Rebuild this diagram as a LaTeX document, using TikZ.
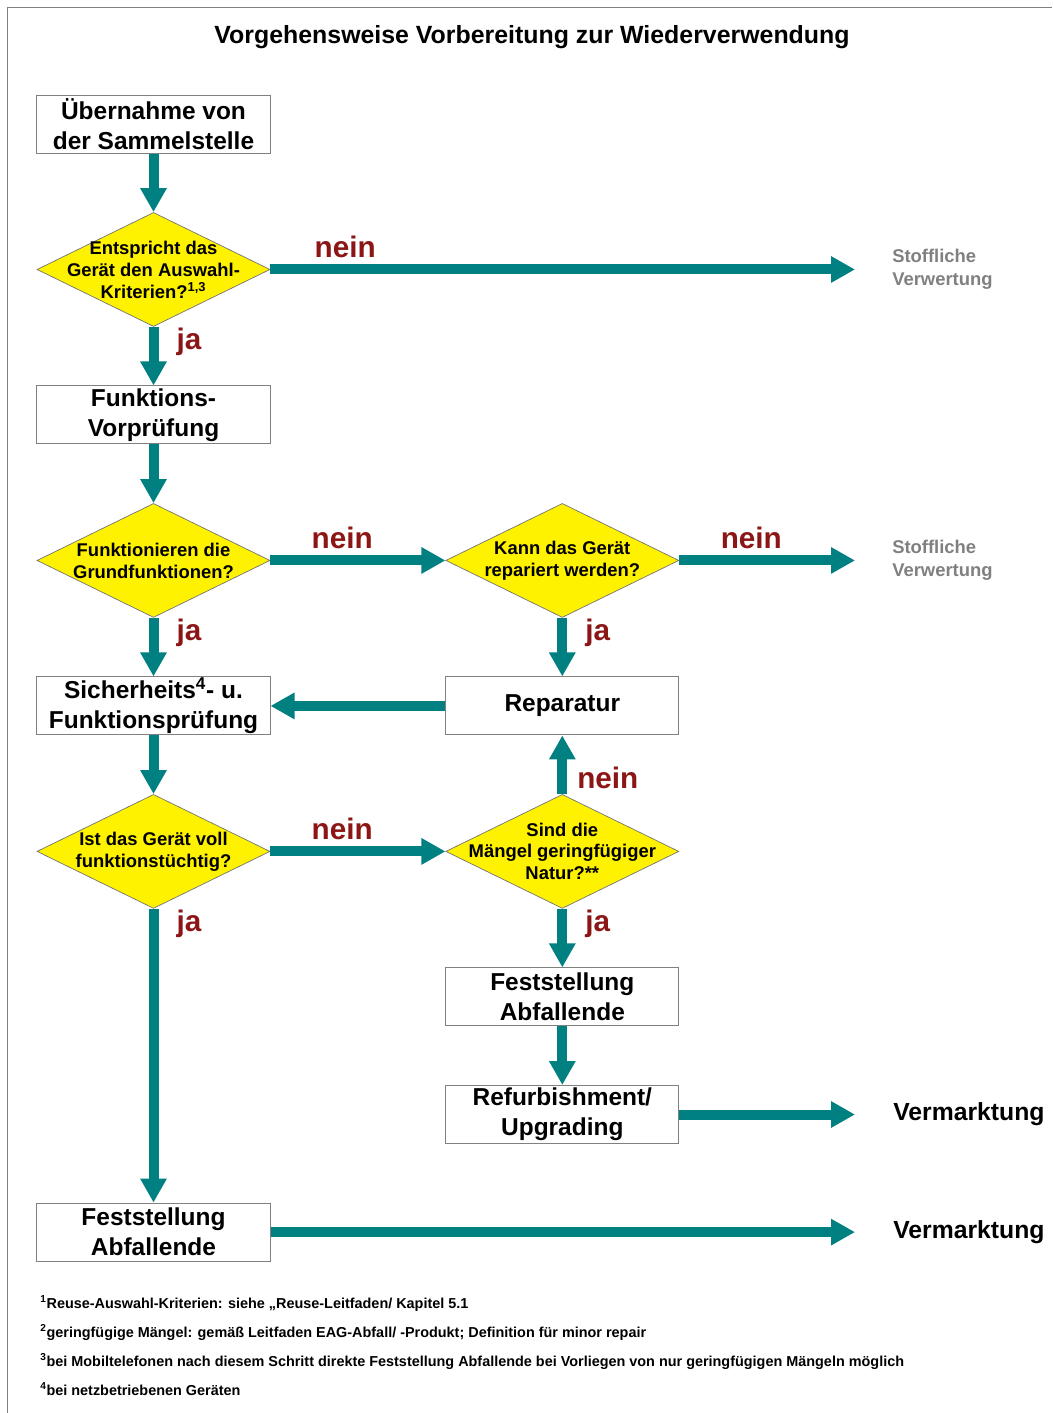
\documentclass[tikz,border=0pt]{standalone}
\usepackage{fontspec}
\setmainfont{Liberation Sans}
\usetikzlibrary{positioning,arrows.meta,shapes.geometric}
\definecolor{flowteal}{RGB}{0,128,128}
\definecolor{neinred}{RGB}{140,22,22}
\definecolor{framegray}{RGB}{128,128,128}

\begin{document}
\begin{tikzpicture}[x=0.025cm,y=-0.025cm,font=\bfseries,node distance=1.465cm]
  \tikzstyle{box}=[draw=framegray,line width=0.7pt,minimum width=5.825cm,minimum height=1.45cm,align=center,inner sep=0pt,font=\bfseries\fontsize{17.4}{21.3}\selectfont]
  \tikzstyle{decision}=[diamond,draw=black!55,line width=0.5pt,fill=yellow,minimum width=5.825cm,minimum height=2.85cm,inner sep=0pt]
  \tikzstyle{dtext}=[align=center,inner sep=0pt,font=\bfseries\fontsize{13.1}{15.6}\selectfont]
  \tikzstyle{flow}=[draw=flowteal,line width=0.25cm,-{Triangle[length=0.6cm,width=0.625cm]}]
  \tikzstyle{answer}=[text=neinred,inner sep=0pt,font=\bfseries\fontsize{21.1}{25}\selectfont]
  \tikzstyle{target}=[text=framegray,align=left,inner sep=0pt,font=\bfseries\fontsize{13.1}{16.4}\selectfont]
  \tikzstyle{market}=[inner sep=0pt,font=\bfseries\fontsize{17.6}{21}\selectfont]
  \tikzstyle{note}=[anchor=base west,inner sep=0pt,font=\bfseries\fontsize{10.25}{12}\selectfont]
  \useasboundingbox (0,0) rectangle (1052,1413);
  \draw[framegray,line width=1.2pt] (7.5,1413) |- (1052,7.5);
  \node[font=\bfseries\fontsize{17.7}{20}\selectfont] (title) at (532,37) {Vorgehensweise Vorbereitung zur Wiederverwendung};
  \node[box] (uebernahme) at (153.5,124) {Übernahme von\\der Sammelstelle};
  \node[decision,below=of uebernahme,label={[dtext]center:{Entspricht das\\Gerät den Auswahl-\\Kriterien?\textsuperscript{1,3}}}] (kriterien) {};
  \node[box,below=of kriterien] (vorpruefung) {Funktions-\\Vorprüfung};
  \node[decision,below=of vorpruefung,label={[dtext]center:{Funktionieren die\\Grundfunktionen?}}] (grundfkt) {};
  \node[box,below=of grundfkt] (sicherheit) {Sicherheits\textsuperscript{4}- u.\\Funktionsprüfung};
  \node[decision,below=of sicherheit,label={[dtext]center:{Ist das Gerät voll\\funktionstüchtig?}}] (funktion) {};
  \node[decision,right=4.375cm of grundfkt,label={[dtext]center:{Kann das Gerät\\repariert werden?}}] (reparierbar) {};
  \node[box,below=of reparierbar] (reparatur) {Reparatur};
  \node[decision,below=of reparatur,label={[dtext]center:{Sind die\\Mängel geringfügiger\\Natur?**}}] (maengel) {};
  \node[box,below=of maengel] (abfallendeR) {Feststellung\\Abfallende};
  \node[box,below=of abfallendeR] (refurb) {Refurbishment/\\Upgrading};
  \coordinate (leftbase) at (refurb.south -| funktion);
  \node[box,below=of leftbase] (abfallendeL) {Feststellung\\Abfallende};
  \coordinate (tipx) at (855,0);
  \coordinate (out1) at (kriterien -| tipx);
  \coordinate (out2) at (reparierbar -| tipx);
  \coordinate (out3) at (refurb -| tipx);
  \coordinate (out4) at (abfallendeL -| tipx);
  \node[target,right=0.925cm of out1] (verwertung1) {Stoffliche\\Verwertung};
  \node[target,right=0.925cm of out2] (verwertung2) {Stoffliche\\Verwertung};
  \node[market,right=0.95cm of out3] (vermarktung1) {Vermarktung};
  \node[market,right=0.95cm of out4] (vermarktung2) {Vermarktung};
  \draw[flow] (uebernahme) -- (kriterien);
  \draw[flow] (kriterien) -- node[answer,above=5pt,pos=0.128]{nein} (out1);
  \draw[flow] (kriterien) -- node[answer,right=12.8pt,pos=0.26]{ja} (vorpruefung);
  \draw[flow] (vorpruefung) -- (grundfkt);
  \draw[flow] (grundfkt) -- node[answer,above=5pt,pos=0.41]{nein} (reparierbar);
  \draw[flow] (grundfkt) -- node[answer,right=12.8pt,pos=0.25]{ja} (sicherheit);
  \draw[flow] (reparierbar) -- node[answer,above=5pt,pos=0.41]{nein} (out2);
  \draw[flow] (reparierbar) -- node[answer,right=12.8pt,pos=0.25]{ja} (reparatur);
  \draw[flow] (reparatur) -- (sicherheit);
  \draw[flow] (sicherheit) -- (funktion);
  \draw[flow] (funktion) -- node[answer,above=5pt,pos=0.41]{nein} (maengel);
  \draw[flow] (maengel) -- node[answer,right=7.1pt,pos=0.276]{nein} (reparatur);
  \draw[flow] (funktion) -- node[answer,right=12.8pt,pos=0.051]{ja} (abfallendeL);
  \draw[flow] (maengel) -- node[answer,right=12.8pt,pos=0.25]{ja} (abfallendeR);
  \draw[flow] (abfallendeR) -- (refurb);
  \draw[flow] (refurb) -- (out3);
  \draw[flow] (abfallendeL) -- (out4);
  \node[note] (fn1) at (40,1308) {\textsuperscript{1}Reuse-Auswahl-Kriterien: siehe „Reuse-Leitfaden/ Kapitel 5.1};
  \node[note] (fn2) at (40,1337) {\textsuperscript{2}geringfügige Mängel: gemäß Leitfaden EAG-Abfall/ -Produkt; Definition für minor repair};
  \node[note] (fn3) at (40,1366) {\textsuperscript{3}bei Mobiltelefonen nach diesem Schritt direkte Feststellung Abfallende bei Vorliegen von nur geringfügigen Mängeln möglich};
  \node[note] (fn4) at (40,1395) {\textsuperscript{4}bei netzbetriebenen Geräten};
\end{tikzpicture}
\end{document}
